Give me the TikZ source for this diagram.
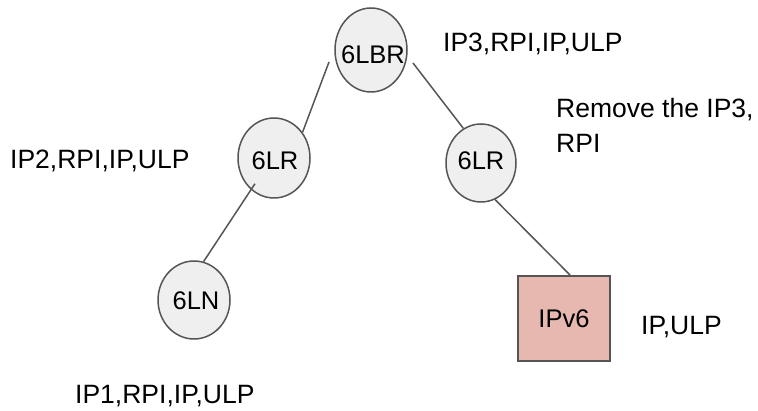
\documentclass[tikz,border=0pt]{standalone}
\usepackage{fontspec}
\setmainfont{Liberation Sans}
\usetikzlibrary{shapes.geometric,calc}
\definecolor{edgegray}{HTML}{555555}
\definecolor{nodefill}{HTML}{EFEFEF}
\definecolor{boxfill}{HTML}{E6B8AF}
\begin{document}
\begin{tikzpicture}[x=1pt,y=-1pt,
  ell/.style={ellipse,draw=edgegray,fill=nodefill,line width=1.5pt,inner sep=0pt},
  nodetext/.style={inner sep=0pt,font=\fontsize{25.5}{30}\selectfont},
  lbl/.style={anchor=base west,inner sep=0pt,font=\fontsize{26.5}{35}\selectfont,align=left},
  conn/.style={draw=edgegray,line width=1.5pt}]
\useasboundingbox (0,0) rectangle (758,411);
% nodes
\node[ell,minimum width=72pt,minimum height=84pt] (lbr) at (371,50) {};
\node[nodetext] (lbrt) at (373,55) {6LBR};
\node[ell,minimum width=72pt,minimum height=80pt] (lrl) at (274,158) {};
\node[nodetext] (lrlt) at (275,161) {6LR};
\node[ell,minimum width=70pt,minimum height=78pt] (lrr) at (481,163) {};
\node[nodetext] (lrrt) at (481,161) {6LR};
\node[ell,minimum width=72pt,minimum height=78pt] (ln) at (194,300) {};
\node[nodetext] (lnt) at (196,301) {6LN};
\node[draw=edgegray,fill=boxfill,line width=2pt,minimum width=92pt,minimum height=85pt,inner sep=0pt,
      font=\fontsize{25.5}{30}\selectfont] (box) at (564,318.5) {IPv6};
% free ends
\coordinate (c1) at (329,62);
\coordinate (c2) at (413,63);
\coordinate (c3) at ($(lrl.234)+(4,-6)$);
% connectors
\draw[conn] (c1) -- (lrl.42);
\draw[conn] (c2) -- (lrr.117);
\draw[conn] (c3) -- (ln.76);
\draw[conn] (lrr.291) -- ([xshift=6pt]box.north);
% labels
\node[lbl] (t1) at (443,52) {IP3,RPI,IP,ULP};
\node[lbl] (t2) at (10,169) {IP2,RPI,IP,ULP};
\node[lbl] (t3) at (556,153) {Remove the IP3,\\RPI};
\node[lbl] (t4) at (75,404) {IP1,RPI,IP,ULP};
\node[lbl] (t5) at (641,335) {IP,ULP};
\end{tikzpicture}
\end{document}
